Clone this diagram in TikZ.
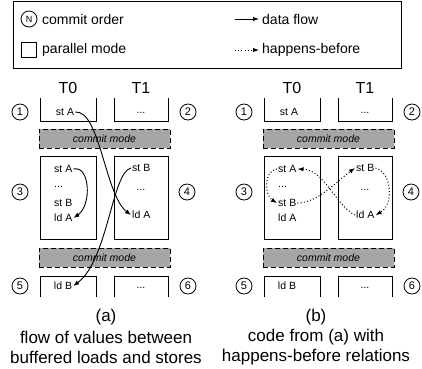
\documentclass[tikz,border=0pt]{standalone}
\usepackage{fontspec}
\setmainfont{Liberation Sans}
\usetikzlibrary{arrows.meta}
\colorlet{commit fill}{black!35}
\tikzset{box/.style={draw=black, line width=0.7pt},
    order/.style={circle, draw=black, line width=0.8pt, inner sep=0pt, minimum size=16pt, font=\fontsize{11}{12}\selectfont},
    code/.style={inner sep=1pt, font=\fontsize{10.5}{12}\selectfont},
    thread/.style={inner sep=0pt, font=\fontsize{16}{18}\selectfont},
    commit/.style={draw=black, fill=commit fill, dash pattern=on 5pt off 3pt, line width=0.8pt,
        minimum width=131pt, minimum height=19pt, inner sep=0pt, font=\fontsize{10.5}{12}\selectfont\itshape},
    flow/.style={-{Latex[length=6pt,width=4.5pt]}, line width=0.9pt},
    hb/.style={flow, line width=1pt, dash pattern=on 1pt off 2.2pt},
    caption/.style={inner sep=0pt, font=\fontsize{17}{20}\selectfont},
    legend/.style={anchor=west, inner sep=0pt, font=\fontsize{14}{16}\selectfont}}

\begin{document}
\begin{tikzpicture}[x=1pt,y=-1pt]
     \useasboundingbox (0,0) rectangle (422,368);
     % legend
     \draw[box] (13,1) rectangle (401,68);
     \node[order, font=\fontsize{9}{10}\selectfont] (lg-order) at (29,19) {N};
     \node[legend] (lg-order-txt) at (42,19) {commit order};
     \node[box, minimum size=15pt, inner sep=0pt] (lg-par) at (29,50) {};
     \node[legend] (lg-par-txt) at (42,50) {parallel mode};
     \coordinate (lg-flow) at (235,19);
     \node[legend] (lg-flow-txt) at (262,19) {data flow};
     \draw[flow, shorten >=3pt] (lg-flow) -- (lg-flow-txt.west);
     \coordinate (lg-hb) at (235,50);
     \node[legend] (lg-hb-txt) at (262,50) {happens-before};
     \draw[hb, shorten >=3pt] (lg-hb) -- (lg-hb-txt.west);
     % both panels
     \foreach \p/\dx in {a/0,b/224} {
       \begin{scope}[shift={(\dx,0)}]
         \node[thread] (\p-T0) at (68,88) {T0};
         \node[thread] (\p-T1) at (141,88) {T1};
         \draw[box] (40,98) |- (96,121) -- (96,98);
         \draw[box] (114,98) |- (168,121) -- (168,98);
         \node[commit] (\p-cm1) at (104.5,138.5) {commit mode};
         \draw[box] (40,156) rectangle (96,239);
         \draw[box] (114,156) rectangle (168,239);
         \node[commit] (\p-cm2) at (104.5,257.5) {commit mode};
         \draw[box] (40,297) |- (96,276) -- (96,297);
         \draw[box] (114,297) |- (168,276) -- (168,297);
         \node[order] (\p-o1) at (20,112) {1};
         \node[order] (\p-o2) at (188,112) {2};
         \node[order] (\p-o3) at (20,192) {3};
         \node[order] (\p-o4) at (187,192) {4};
         \node[order] (\p-o5) at (20,286) {5};
         \node[order] (\p-o6) at (188,286) {6};
         \node[code] (\p-stA1) at (65,112) {st A};
         \node[code] (\p-dots2) at (141,113) {...};
         \node[code, anchor=west] (\p-stA3) at (53,169) {st A};
         \node[code, anchor=west] (\p-dots3) at (53,187) {...};
         \node[code, anchor=west] (\p-stB3) at (53,203) {st B};
         \node[code, anchor=west] (\p-ldA3) at (53,218) {ld A};
         \node[code, anchor=west] (\p-stB4) at (131,168) {st B};
         \node[code] (\p-dots4) at (141,190) {...};
         \node[code, anchor=west] (\p-ldA4) at (131,215) {ld A};
         \node[code] (\p-ldB5) at (63,286) {ld B};
         \node[code] (\p-dots6) at (141,288) {...};
       \end{scope}
     }
     % (a) data flow
     \draw[flow] (a-stA1.east) .. controls (100,110) and (105,195) .. (a-ldA4.west);
     \draw[flow] (a-stB4.west) .. controls (112,172) and (108,260) .. (a-ldB5.east);
     \draw[flow] (a-stA3.east) .. controls (90,165) and (92,205) .. (a-ldA3.east);
     % (b) happens-before
     \draw[hb] (b-stA3.west) .. controls (264,170) and (264,195) .. (b-stB3.west);
     \draw[hb] (b-stB3.east) .. controls (318,203) and (338,180) .. (b-stB4.west);
     \draw[hb] (b-ldA4.west) .. controls (335,205) and (325,170) .. (b-stA3.east);
     \draw[hb] (b-stB4.east) .. controls (392,172) and (394,205) .. (b-ldA4.east);
     % captions
     \node[caption] (cap-a) at (106,317) {(a)};
     \node[caption] (cap-a1) at (106,337) {flow of values between};
     \node[caption] (cap-a2) at (106,357) {buffered loads and stores};
     \node[caption] (cap-b) at (316,317) {(b)};
     \node[caption] (cap-b1) at (316,337) {code from (a) with};
     \node[caption] (cap-b2) at (316,357) {happens-before relations};
   \end{tikzpicture}
\end{document}
